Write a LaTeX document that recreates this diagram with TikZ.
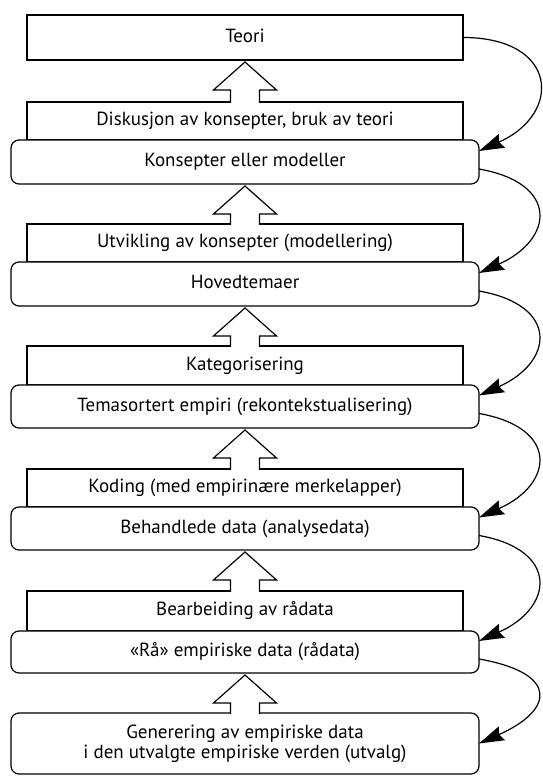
\documentclass[tikz,border=0pt]{standalone}
\usepackage{fontspec}
\setmainfont{PT Sans}
\usetikzlibrary{calc,arrows.meta}
\newcommand\blockup[2]{%
  \draw[blockarr] ($(#2.north)+(-14.5,-0.8)$) -- ($(#1.south)+(-14.5,-30)$)
    -- ($(#1.south)+(-31.5,-30)$) -- ($(#1.south)+(0,-2)$)
    -- ($(#1.south)+(31.5,-30)$) -- ($(#1.south)+(14.5,-30)$)
    -- ($(#2.north)+(14.5,-0.8)$);}
\begin{document}
\begin{tikzpicture}[x=1pt,y=1pt,
  every node/.style={inner sep=0pt, outer sep=0pt,
    font=\fontsize{19}{21}\selectfont, text height=13.5pt, text depth=4pt},
  rectbox/.style={draw, line width=1.2pt, minimum width=436pt, fill=white},
  roundbox/.style={draw, line width=1.2pt, rounded corners=8pt, minimum width=468pt, fill=white},
  blockarr/.style={draw, line width=1.2pt, fill=white, line join=miter},
  curvearr/.style={line width=1.2pt, -{Stealth[length=25pt,width=15pt,inset=3pt]}}]
\useasboundingbox (0,0) rectangle (542,776);
% rectangles (process steps)
\node[rectbox, minimum height=45pt] (teori) at (245,738.5) {Teori};
\node[rectbox, minimum height=38pt] (diskusjon) at (245,655) {Diskusjon av konsepter, bruk av teori};
\node[rectbox, minimum height=38pt] (utvikling) at (245,533) {Utvikling av konsepter (modellering)};
\node[rectbox, minimum height=39pt] (kategorisering) at (245,410.5) {Kategorisering};
\node[rectbox, minimum height=38pt] (koding) at (245,288) {Koding (med empirinære merkelapper)};
\node[rectbox, minimum height=40pt] (bearbeiding) at (245,165) {Bearbeiding av rådata};
% rounded boxes (results)
\node[roundbox, minimum height=44pt] (konsepter) at (245,614) {Konsepter eller modeller};
\node[roundbox, minimum height=44pt] (hovedtemaer) at (245,492) {Hovedtemaer};
\node[roundbox, minimum height=43pt] (temasortert) at (245,369.5) {Temasortert empiri (rekontekstualisering)};
\node[roundbox, minimum height=43pt] (behandlede) at (245,247.5) {Behandlede data (analysedata)};
\node[roundbox, minimum height=42pt] (raa) at (245,124) {«Rå» empiriske data (rådata)};
\node[roundbox, minimum height=61pt, text height=, text depth=, align=center] (generering) at (245,32.5)
  {\raisebox{-4pt}{\parbox{440pt}{\centering Generering av empiriske data\\[-1pt] i den utvalgte empiriske verden (utvalg)}}};
% block arrows
\blockup{teori}{diskusjon}
\blockup{konsepter}{utvikling}
\blockup{hovedtemaer}{kategorisering}
\blockup{temasortert}{koding}
\blockup{behandlede}{bearbeiding}
\blockup{raa}{generering}
% curved arrows
\draw[curvearr] (teori.east) .. controls +(0:95) and +(24:92) .. ($(konsepter.east)+(0,11)$);
\draw[curvearr] ($(konsepter.east)+(0,-7)$) .. controls +(-10:82) and +(24:82) .. ($(hovedtemaer.east)+(0,11)$);
\draw[curvearr] ($(hovedtemaer.east)+(0,-7)$) .. controls +(-10:82) and +(24:82) .. ($(temasortert.east)+(0,11)$);
\draw[curvearr] ($(temasortert.east)+(0,-7)$) .. controls +(-10:82) and +(24:82) .. ($(behandlede.east)+(0,11)$);
\draw[curvearr] ($(behandlede.east)+(0,-7)$) .. controls +(-10:82) and +(24:82) .. ($(raa.east)+(0,11)$);
\draw[curvearr] ($(raa.east)+(0,-7)$) .. controls +(-10:82) and +(24:82) .. (generering.east);
\end{tikzpicture}
\end{document}
